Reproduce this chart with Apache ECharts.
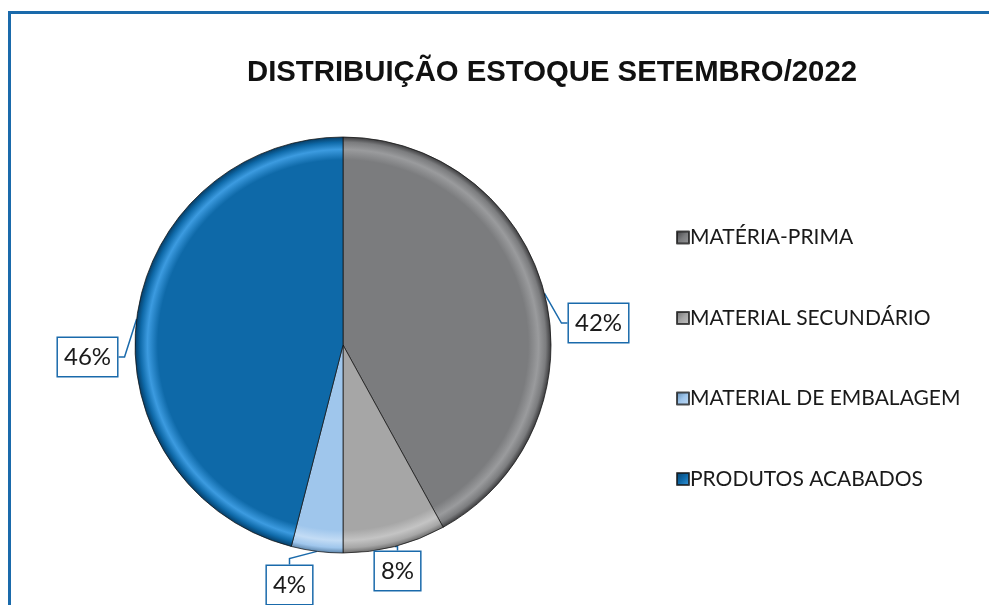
<!DOCTYPE html>
<html>
<head>
<meta charset="utf-8">
<script src="https://cdn.jsdelivr.net/npm/echarts@6/dist/echarts.min.js"></script>
<style>
  html, body { margin: 0; padding: 0; background: #fff; }
  #chart { width: 989px; height: 605px; }
</style>
</head>
<body>
<div id="chart"></div>
<script>
const categories = ["MATÉRIA-PRIMA", "MATERIAL SECUNDÁRIO", "MATERIAL DE EMBALAGEM", "PRODUTOS ACABADOS"];
const shares = [42, 8, 4, 46];

// base, highlight, shadow per slice
const sliceColors = [
  ["#7b7c7e", "#9a9b9d", "#3c3c3e"],
  ["#a6a6a6", "#c4c4c4", "#6c6c6c"],
  ["#9fc6ec", "#c3dcf5", "#5f87ad"],
  ["#0e69a8", "#3c9be0", "#063d66"],
];

const CX = 343, CY = 345, R = 208;
const FRAME_BLUE = "#1a6aab";
// where the callout boxes sit (centre of each box)
const labelSpots = [[600, 323], [399, 571], [288, 585], [86, 357]];

function bevel(c) {
  return {
    type: "radial", x: CX, y: CY, r: R, global: true,
    colorStops: [
      { offset: 0, color: c[0] },
      { offset: 0.89, color: c[0] },
      { offset: 0.94, color: c[1] },
      { offset: 0.975, color: c[0] },
      { offset: 1, color: c[2] },
    ],
  };
}

function iconGrad(c) {
  return {
    type: "linear", x: 0, y: 0, x2: 1, y2: 1,
    colorStops: [
      { offset: 0, color: c[2] },
      { offset: 0.5, color: c[0] },
      { offset: 1, color: c[1] },
    ],
  };
}

const chart = echarts.init(document.getElementById("chart"));

chart.setOption({
  animation: false,
  title: {
    text: "DISTRIBUIÇÃO ESTOQUE SETEMBRO/2022",
    left: 547,
    textAlign: "center",
    top: 53,
    textStyle: {
      fontFamily: "Liberation Sans",
      fontWeight: "bold",
      fontSize: 29.3,
      color: "#111",
    },
  },
  legend: {
    orient: "vertical",
    left: 671,
    top: 222,
    icon: "rect",
    itemWidth: 12,
    itemHeight: 12,
    itemGap: 59.5,
    selectedMode: false,
    textStyle: {
      fontFamily: "Lato",
      fontSize: 21,
      color: "#1a1a1a",
      padding: [0, 0, 0, -4],
    },
    data: categories.map((name, i) => ({
      name,
      itemStyle: { color: iconGrad(sliceColors[i]) },
    })),
  },
  graphic: [
    {
      type: "rect",
      shape: { x: 9.5, y: 12.5, width: 1000, height: 700 },
      style: { fill: "none", stroke: FRAME_BLUE, lineWidth: 3 },
    },
  ],
  series: [
    {
      type: "pie",
      center: [CX, CY],
      radius: [0, R],
      startAngle: 90,
      clockwise: true,
      silent: true,
      itemStyle: { borderColor: "rgba(20,20,20,0.75)", borderWidth: 1 },
      label: {
        show: true,
        position: "outside",
        formatter: "{c}%",
        fontFamily: "Lato",
        fontSize: 24,
        color: "#1a1a1a",
        backgroundColor: "#fff",
        borderColor: FRAME_BLUE,
        borderWidth: 1.5,
        padding: [8, 6, 6, 6],
      },
      labelLine: {
        show: true,
        length: 10,
        length2: 6,
        lineStyle: { color: FRAME_BLUE, width: 1.5 },
      },
      labelLayout: function (params) {
        const spot = labelSpots[params.dataIndex];
        const w = params.labelRect.width;
        let x = spot[0];
        if (params.align === "left") x = spot[0] - w / 2;
        else if (params.align === "right") x = spot[0] + w / 2;
        return { x: x, y: spot[1], verticalAlign: "middle" };
      },
      data: categories.map((name, i) => ({
        name,
        value: shares[i],
        itemStyle: { color: bevel(sliceColors[i]) },
      })),
    },
  ],
});
</script>
</body>
</html>
